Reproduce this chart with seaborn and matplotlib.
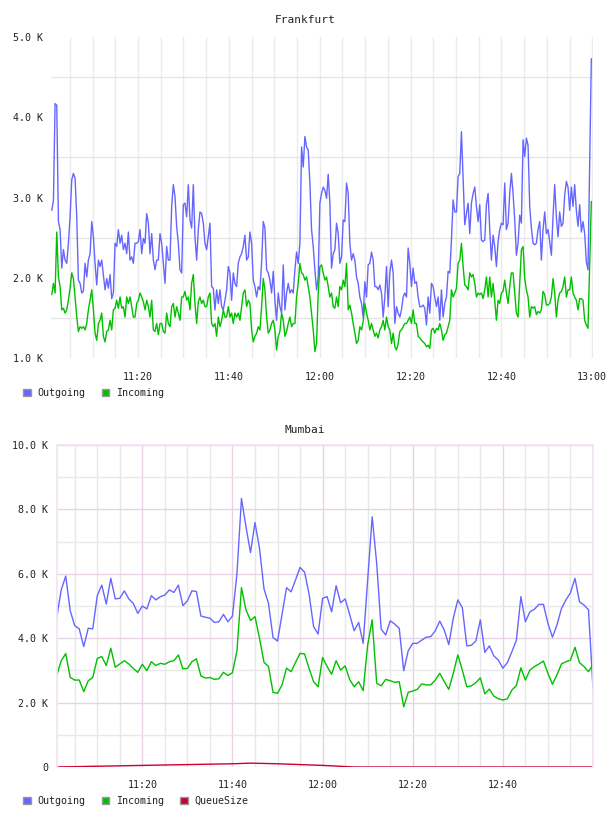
import numpy as np
import pandas as pd
import seaborn as sns
import matplotlib.pyplot as plt
import matplotlib.dates as mdates
from matplotlib.patches import Patch
from matplotlib.ticker import FixedLocator, FuncFormatter

sns.set_style("white")
plt.rcParams['font.family'] = ['DejaVu Sans Mono']

# Frankfurt, values in K, one reading every 22 s starting 11:01:00
fra_outgoing = [
    2.84, 2.96, 4.17, 4.15, 2.70, 2.60, 2.12, 2.35, 2.22, 2.18,
    2.43, 2.76, 3.22, 3.30, 3.24, 2.76, 1.97, 1.93, 1.81, 1.83,
    2.18, 2.01, 2.22, 2.30, 2.70, 2.51, 2.18, 1.91, 2.22, 2.14,
    2.22, 2.04, 1.85, 1.99, 1.87, 2.04, 1.74, 1.81, 2.43, 2.39,
    2.60, 2.43, 2.53, 2.35, 2.43, 2.30, 2.57, 2.22, 2.26, 2.18,
    2.43, 2.43, 2.45, 2.60, 2.30, 2.49, 2.43, 2.80, 2.68, 2.30,
    2.55, 2.22, 2.10, 2.22, 2.22, 2.55, 2.43, 2.18, 1.93, 2.39,
    2.22, 2.22, 2.89, 3.16, 3.01, 2.64, 2.43, 2.10, 2.06, 2.91,
    2.93, 2.76, 3.16, 2.72, 2.62, 3.16, 2.51, 2.22, 2.60, 2.82,
    2.80, 2.68, 2.43, 2.35, 2.51, 2.68, 1.89, 1.87, 1.60, 1.85,
    1.68, 1.85, 1.64, 1.60, 1.72, 1.85, 2.14, 2.06, 1.72, 2.06,
    1.93, 1.89, 2.18,
    2.26, 2.30, 2.39, 2.53, 2.22, 2.26, 2.57, 2.43, 1.97, 1.89,
    1.76, 1.89, 1.85, 2.18, 2.70, 2.62, 2.10, 2.06, 1.97, 1.81,
    2.08, 1.72, 1.47, 1.81, 1.64, 1.56, 2.16, 1.60, 1.81, 1.93,
    1.81, 1.85, 1.81, 2.10, 2.32, 2.18, 2.43, 3.63, 3.38, 3.76,
    3.63, 3.59, 3.18, 2.60, 2.39, 2.10, 1.85, 2.01, 2.93, 3.05,
    3.13, 3.09, 2.99, 3.29, 2.93, 2.12, 2.30, 2.35, 2.68, 2.55,
    2.18, 2.26, 2.72, 2.70, 3.18, 3.05, 2.43, 2.22, 2.30, 2.22,
    2.01, 1.93, 1.76, 1.68, 1.51, 1.95, 1.76, 2.16, 2.18, 2.32,
    2.22, 1.89, 1.89, 1.85, 1.91, 1.81, 1.51, 1.76, 2.14, 1.64,
    2.06, 2.22, 2.06, 1.43, 1.64, 1.56, 1.51, 1.60, 1.76, 1.81,
    1.76, 2.37, 2.18, 1.89, 2.12, 1.93, 1.95, 1.76, 1.64, 1.64,
    1.66, 1.62, 1.41, 1.76, 1.56,
    1.93, 1.89, 1.76, 1.64, 1.76, 1.47, 1.85, 1.51, 1.68, 1.76,
    2.08, 2.06, 2.47, 2.97, 2.82, 2.82, 3.26, 3.30, 3.82, 3.24,
    2.66, 2.80, 2.93, 2.55, 2.93, 3.05, 3.13, 2.89, 2.70, 2.91,
    2.47, 2.45, 2.47, 2.91, 3.05, 2.60, 2.22, 2.53, 2.39, 2.14,
    2.45, 2.60, 2.68, 2.66, 3.18, 2.60, 2.68, 3.05, 3.30, 3.05,
    2.72, 2.28, 2.43, 2.78, 2.68, 3.72, 3.51, 3.74, 3.65, 2.89,
    2.62, 2.43, 2.41, 2.43, 2.60, 2.70, 2.22, 2.60, 2.82, 2.55,
    2.60, 2.45, 2.28, 2.76, 3.16, 2.76, 2.51, 2.82, 2.64, 2.68,
    3.03, 3.20, 3.13, 2.84, 3.13, 2.89, 3.16, 2.84, 2.64, 2.91,
    2.57, 2.70, 2.55, 2.20, 2.10, 3.40, 4.73,
]
fra_incoming = [
    1.79, 1.93, 1.81, 2.57, 2.01, 1.89, 1.60, 1.62, 1.56, 1.60,
    1.72, 1.87, 2.06, 1.99, 1.76, 1.51, 1.33, 1.39, 1.37, 1.39,
    1.35, 1.43, 1.60, 1.72, 1.85, 1.60, 1.31, 1.22, 1.43, 1.47,
    1.56, 1.27, 1.20, 1.33, 1.35, 1.47, 1.35, 1.60, 1.62, 1.72,
    1.62, 1.76, 1.62, 1.64, 1.51, 1.76, 1.68, 1.76, 1.64, 1.51,
    1.51, 1.68, 1.72, 1.81, 1.76, 1.70, 1.60, 1.72, 1.64, 1.51,
    1.72, 1.35, 1.33, 1.43, 1.29, 1.43, 1.43, 1.33, 1.31, 1.56,
    1.43, 1.39, 1.64, 1.68, 1.51, 1.64, 1.56, 1.47, 1.76, 1.76,
    1.83, 1.72, 1.76, 1.60, 1.93, 2.04, 1.68, 1.43, 1.70, 1.76,
    1.68, 1.72, 1.64, 1.64, 1.76, 1.81, 1.43, 1.39, 1.43, 1.27,
    1.51, 1.39, 1.47, 1.60, 1.51, 1.51, 1.64, 1.51, 1.56, 1.43,
    1.56, 1.51, 1.56,
    1.47, 1.64, 1.81, 1.85, 1.64, 1.72, 1.68, 1.35, 1.20, 1.27,
    1.31, 1.39, 1.35, 1.64, 1.99, 1.85, 1.51, 1.31, 1.35, 1.43,
    1.47, 1.35, 1.10, 1.27, 1.33, 1.56, 1.47, 1.27, 1.33, 1.43,
    1.51, 1.39, 1.43, 1.43, 1.76, 1.93, 2.18, 2.06, 2.04, 1.97,
    2.01, 1.89, 1.76, 1.56, 1.35, 1.08, 1.18, 1.81, 2.14, 2.16,
    2.06, 1.97, 2.01, 1.89, 1.76, 1.81, 1.64, 1.62, 1.76, 1.64,
    1.89, 1.85, 1.97, 1.89, 2.18, 1.60, 1.66, 1.56, 1.43, 1.31,
    1.18, 1.22, 1.39, 1.35, 1.45, 1.68, 1.56, 1.47, 1.35, 1.43,
    1.35, 1.27, 1.31, 1.25, 1.35, 1.39, 1.47, 1.35, 1.51, 1.39,
    1.35, 1.18, 1.31, 1.14, 1.10, 1.18, 1.33, 1.35, 1.39, 1.43,
    1.43, 1.47, 1.51, 1.43, 1.60, 1.43, 1.43, 1.27, 1.25, 1.22,
    1.20, 1.18, 1.14, 1.16, 1.12,
    1.35, 1.37, 1.31, 1.37, 1.35, 1.43, 1.35, 1.22, 1.29, 1.31,
    1.39, 1.47, 1.85, 1.76, 1.81, 1.87, 2.18, 2.22, 2.43, 2.14,
    1.91, 1.89, 1.85, 2.06, 2.01, 2.04, 1.93, 1.76, 1.81, 1.79,
    1.81, 1.74, 1.85, 2.01, 1.76, 2.01, 1.76, 1.93, 1.72, 1.47,
    1.72, 1.68, 1.81, 1.83, 1.97, 1.81, 1.68, 1.89, 2.06, 2.06,
    1.81, 1.56, 1.51, 1.93, 2.35, 2.39, 1.99, 1.85, 1.76, 1.51,
    1.64, 1.62, 1.64, 1.54, 1.58, 1.56, 1.60, 1.83, 1.79, 1.66,
    1.66, 1.68, 1.76, 1.99, 1.81, 1.51, 1.72, 1.81, 1.83, 1.89,
    2.01, 1.76, 1.85, 1.85, 2.01, 1.81, 1.76, 1.72, 1.60, 1.74,
    1.74, 1.72, 1.47, 1.41, 1.37, 2.18, 2.95,
]

# Mumbai, values in K, one reading per minute from 11:01 to 13:00
mum_outgoing = [
    4.64, 5.50, 5.93, 4.85, 4.39, 4.29, 3.74, 4.31, 4.29, 5.32,
    5.65, 5.06, 5.86, 5.22, 5.24, 5.47, 5.22, 5.08, 4.77, 5.00,
    4.91, 5.32, 5.19, 5.29, 5.34, 5.50, 5.42, 5.65, 5.01, 5.16,
    5.47, 5.45, 4.69, 4.65, 4.62, 4.49, 4.51, 4.74, 4.51, 4.69,
    6.01, 8.34, 7.46, 6.66, 7.59, 6.79, 5.53, 5.08, 4.02, 3.91,
    4.74, 5.57, 5.44, 5.81, 6.20, 6.05, 5.37, 4.36, 4.13, 5.24,
    5.29, 4.82, 5.63, 5.10, 5.22, 4.74, 4.23, 4.49, 3.84, 5.81,
    7.77, 6.33, 4.28, 4.10, 4.54, 4.44, 4.31, 2.99, 3.61, 3.84,
    3.84, 3.94, 4.03,
    4.05, 4.23, 4.53, 4.25, 3.80, 4.62, 5.19, 4.95, 3.76, 3.78,
    3.91, 4.57, 3.56, 3.76, 3.45, 3.32, 3.07, 3.24, 3.58, 3.94,
    5.29, 4.51, 4.82, 4.90, 5.05, 5.05, 4.46, 4.03, 4.41, 4.92,
    5.19, 5.41, 5.86, 5.13, 5.03, 4.88, 2.44,
]
mum_incoming = [
    2.84, 3.30, 3.52, 2.78, 2.70, 2.70, 2.34, 2.68, 2.78, 3.37,
    3.43, 3.15, 3.69, 3.10, 3.20, 3.30, 3.20, 3.06, 2.94, 3.19,
    2.99, 3.27, 3.15, 3.22, 3.19, 3.27, 3.30, 3.48, 3.05, 3.06,
    3.27, 3.36, 2.83, 2.76, 2.78, 2.72, 2.74, 2.94, 2.84, 2.93,
    3.61, 5.57, 4.88, 4.55, 4.67, 4.00, 3.25, 3.12, 2.32, 2.29,
    2.55, 3.07, 2.96, 3.25, 3.53, 3.51, 3.06, 2.65, 2.49, 3.40,
    3.12, 2.88, 3.30, 3.01, 3.14, 2.72, 2.49, 2.65, 2.37, 3.79,
    4.57, 2.60, 2.52, 2.72, 2.68, 2.63, 2.65, 1.87, 2.32, 2.36,
    2.41, 2.58, 2.55,
    2.55, 2.70, 2.91, 2.65, 2.41, 2.91, 3.48, 3.01, 2.49, 2.52,
    2.62, 2.77, 2.27, 2.42, 2.20, 2.12, 2.08, 2.12, 2.39, 2.53,
    3.08, 2.70, 3.01, 3.12, 3.20, 3.29, 2.91, 2.57, 2.86, 3.20,
    3.27, 3.32, 3.72, 3.24, 3.12, 2.96, 3.19,
]
queue_times = ["11:01", "11:20", "11:40", "11:44", "11:50", "12:00", "12:07", "13:00"]
queue_size = [0.0, 0.05, 0.10, 0.12, 0.10, 0.05, 0.0, 0.0]

colors = {"Outgoing": "#6666ff", "Incoming": "#00c000", "QueueSize": "#cc0033"}
day = "2024-01-01 "

fra_t = pd.date_range(day + "11:01:00", periods=len(fra_outgoing), freq="22s")
mum_t = pd.date_range(day + "11:01", periods=len(mum_outgoing), freq="1min")
q_t = pd.to_datetime([day + t for t in queue_times])

fra = pd.concat([
    pd.DataFrame({"time": fra_t, "value": np.array(fra_outgoing) * 1000, "series": "Outgoing"}),
    pd.DataFrame({"time": fra_t, "value": np.array(fra_incoming) * 1000, "series": "Incoming"}),
])
mum = pd.concat([
    pd.DataFrame({"time": mum_t, "value": np.array(mum_outgoing) * 1000, "series": "Outgoing"}),
    pd.DataFrame({"time": mum_t, "value": np.array(mum_incoming) * 1000, "series": "Incoming"}),
    pd.DataFrame({"time": q_t, "value": np.array(queue_size) * 1000, "series": "QueueSize"}),
])

fig = plt.figure(figsize=(6.08, 8.16), dpi=100)
ax1 = fig.add_axes([51 / 608, 1 - 358 / 816, 542 / 608, 321 / 816])
ax2 = fig.add_axes([56.7 / 608, 1 - 767 / 816, 536.3 / 608, 322 / 816])


def kfmt(v, _):
    return "0" if v == 0 else f"{v / 1000:.1f} K"


txt = "#222222"

# --- Frankfurt
sns.lineplot(data=fra, x="time", y="value", hue="series", palette=colors,
             linewidth=1.0, ax=ax1, legend=False)
ax1.set_xlim(pd.Timestamp(day + "11:00:50"), pd.Timestamp(day + "13:00:10"))
ax1.set_ylim(1000, 5000)
ax1.set_yticks([1000, 2000, 3000, 4000, 5000])
ax1.yaxis.set_minor_locator(FixedLocator([1500, 2500, 3500, 4500]))
ax1.xaxis.set_major_locator(mdates.MinuteLocator(byminute=[0, 20, 40]))
ax1.xaxis.set_minor_locator(mdates.MinuteLocator(byminute=range(0, 60, 5)))
ax1.xaxis.set_major_formatter(mdates.DateFormatter("%H:%M"))
ax1.yaxis.set_major_formatter(FuncFormatter(kfmt))
ax1.grid(False)
ax1.xaxis.grid(True, which="both", color="#ebebeb", lw=1)
ax1.yaxis.grid(True, which="minor", color="#e6e6e6", lw=1)
for s in ax1.spines.values():
    s.set_visible(False)
ax1.tick_params(axis="both", which="both", length=0, labelsize=7.2, colors=txt)
ax1.tick_params(axis="x", pad=10)
ax1.tick_params(axis="y", pad=6)
ax1.set_xlabel("")
ax1.set_ylabel("")

# --- Mumbai
sns.lineplot(data=mum, x="time", y="value", hue="series", palette=colors,
             linewidth=1.0, ax=ax2, legend=False)
ax2.set_xlim(mum_t[0], mum_t[-1])
ax2.set_ylim(0, 10000)
ax2.set_yticks([0, 2000, 4000, 6000, 8000, 10000])
ax2.yaxis.set_minor_locator(FixedLocator([1000, 3000, 5000, 7000, 9000]))
ax2.xaxis.set_major_locator(mdates.MinuteLocator(byminute=[0, 20, 40]))
ax2.xaxis.set_minor_locator(mdates.MinuteLocator(byminute=range(0, 60, 5)))
ax2.xaxis.set_major_formatter(mdates.DateFormatter("%H:%M"))
ax2.yaxis.set_major_formatter(FuncFormatter(kfmt))
ax2.grid(False)
ax2.grid(True, which="minor", color="#e8e8e8", lw=1)
ax2.grid(True, which="major", color="#e6d4e6", lw=1)
ax2.set_axisbelow(True)
for name, s in ax2.spines.items():
    s.set_color("#f2e2f2")
    s.set_linewidth(1.2)
ax2.spines["bottom"].set_visible(False)
ax2.tick_params(axis="both", which="both", length=0, labelsize=7.2, colors=txt)
ax2.tick_params(axis="x", pad=9)
ax2.tick_params(axis="y", pad=6)
ax2.set_xlabel("")
ax2.set_ylabel("")
# hide the label that would sit on the right edge
for lab in ax2.get_xticklabels():
    if lab.get_text() == "13:00":
        lab.set_visible(False)

fig.text(305 / 608, 1 - 20 / 816, "Frankfurt", ha="center", va="center", fontsize=8, color=txt)
fig.text(305 / 608, 1 - 430 / 816, "Mumbai", ha="center", va="center", fontsize=8, color=txt)


def legend(names, y):
    handles = [Patch(facecolor=colors[n], edgecolor="#999999", lw=1) for n in names]
    fig.legend(handles, names, loc="center left", bbox_to_anchor=(23 / 608, 1 - y / 816),
               frameon=False, ncol=len(names), fontsize=7.2, handlelength=0.75,
               handleheight=0.75, handletextpad=0.7, columnspacing=1.6,
               borderpad=0, borderaxespad=0, labelcolor=txt)


legend(["Outgoing", "Incoming"], 393)
legend(["Outgoing", "Incoming", "QueueSize"], 801)

fig.savefig("out.png", dpi=100)
